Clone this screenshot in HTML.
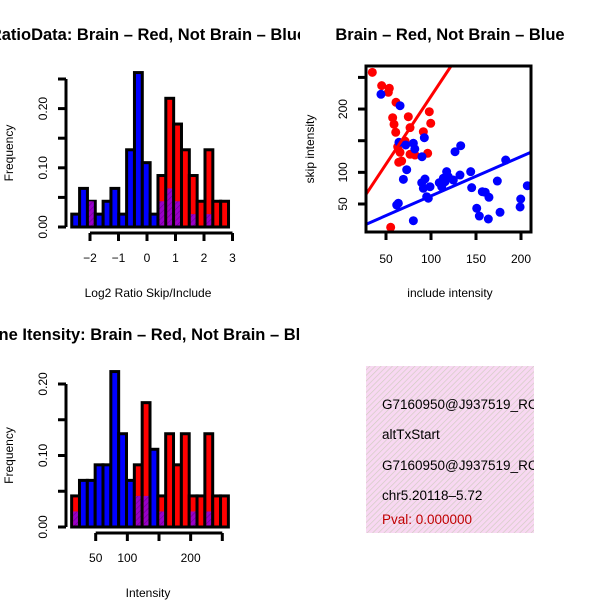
<!DOCTYPE html>
<html><head><meta charset="utf-8"><style>
body{margin:0;background:#fff}
svg text{font-family:"Liberation Sans",sans-serif}
</style></head><body>
<svg id="c" width="600" height="600" xmlns="http://www.w3.org/2000/svg">
<defs>
<pattern id="hatchP" width="4" height="4" patternUnits="userSpaceOnUse" patternTransform="rotate(45)"><rect width="4" height="4" fill="#9a00c8"/><line x1="0" y1="0" x2="0" y2="4" stroke="#6a0090" stroke-width="1.2"/></pattern>
<pattern id="pinkP" width="4" height="4" patternUnits="userSpaceOnUse" patternTransform="rotate(45)"><rect width="4" height="4" fill="#f8d8f2"/><line x1="0" y1="0" x2="0" y2="4" stroke="#d0ccc0" stroke-width="1.3"/></pattern>
<clipPath id="clipL1"><rect x="0" y="0" width="300" height="300"/></clipPath>
<clipPath id="clipL2"><rect x="0" y="300" width="300" height="300"/></clipPath>
<clipPath id="clipSc"><rect x="366" y="66" width="165" height="166"/></clipPath>
<clipPath id="clipBox"><rect x="366" y="366" width="168" height="167"/></clipPath>
</defs>
<g id="p1" clip-path="url(#clipL1)"></g>
<g id="p2" clip-path="url(#clipL2)"></g>
<g id="p3"></g>
<g id="p4">
<rect x="366" y="366" width="168" height="167" fill="url(#pinkP)"/>
<g clip-path="url(#clipBox)" font-size="13.5">
<text x="382" y="409">G7160950@J937519_RC</text>
<text x="382" y="439">altTxStart</text>
<text x="382" y="470">G7160950@J937519_RC</text>
<text x="382" y="500">chr5.20118–5.72</text>
<text x="382" y="524" fill="#c00000">Pval: 0.000000</text>
</g>
</g>
</svg>
<script>
// ---- top-left histogram data (counts out of 46) ----
const h1BinStart = -2.64;
const h1BinWidth = 0.275;
const h1Blue = [1,3,2,1,2,3,1,6,12,5,1,2,3,2,0,1,0,1,0,0];
const h1Red  = [0,0,2,0,0,0,0,0,0,0,0,4,10,8,6,4,2,6,2,2];
const h1XTicks = [-2,-1,0,1,2,3];
const h1YTicks = [0,0.05,0.10,0.15,0.20,0.25];
const h1YLabels = ["0.00","","0.10","","0.20",""];
// ---- bottom-left histogram ----
const h2BinStart = 12;
const h2BinWidth = 12.38;
const h2Blue = [1,3,3,4,4,10,6,3,2,2,5,1,0,0,0,1,0,1,0,0];
const h2Red  = [2,0,0,0,0,0,0,0,4,8,0,2,6,4,6,2,2,6,2,2];
const h2XTicks = [50,100,150,200,250];
const h2XLabels = ["50","100","","200",""];
const h2YTicks = [0,0.05,0.10,0.15,0.20];
const h2YLabels = ["0.00","","0.10","","0.20"];
// ---- scatter ----
const redX = [34.8,45.2,53.7,52.6,61.1,57.4,58.9,60.8,74.8,76.7,63,71.1,65.6,64.1,67.4,76.7,82.2,91.5,98.1,99.7,96.3,55.2];
const redY = [258,237,232.8,226.5,210.7,186.3,175.9,163.3,187.9,170.6,140.5,149.5,131.7,115.9,117.9,128.5,127.4,164.2,195.8,177.5,130.1,13.2];
const blueX = [44.4,65.6,64.4,71.9,80.4,82,92.6,90,73,69.3,89.7,93.3,91.5,95.2,98.9,97,109.2,117.4,113.7,115.6,119.2,132.2,126.7,133,144.1,145.2,150.8,153.7,157,160.3,164.4,163.7,173.7,183,176.7,199.7,199,207,61.9,63.7,80.4,124.8,111.9];
const blueY = [223.3,205.3,147.5,143.2,145.9,136.9,154.7,124.7,104.2,89,83.6,89.5,74.8,61.5,77.3,59.1,83.6,101.1,90.6,85.2,93.1,95.8,132.6,142.1,101.1,75.8,43.2,31,69.4,68.5,60.6,26.3,86.3,119.5,36.9,57.9,45.3,78.9,48.4,51.1,23.6,87.9,77.3];
const redLine = [[27.8,65.3],[122.2,267.8]];
const blueLine = [[27.8,17.9],[211,131.7]];
const scXTicks = [50,100,150,200];
const scYTicks = [50,100,150,200,250];
const scYLabels = ["50","100","","200",""];

const NS="http://www.w3.org/2000/svg";
function el(parent,tag,attrs){const e=document.createElementNS(NS,tag);for(const k in attrs)e.setAttribute(k,attrs[k]);parent.appendChild(e);return e;}

function hist(g,cfg){
  const xs=v=>cfg.x0px+(v-cfg.x0)*cfg.xs, ys=v=>cfg.y0px-v*cfg.ys;
  const N=46;
  for(let i=0;i<cfg.blue.length;i++){
    const l=xs(cfg.bs+i*cfg.bw), r=xs(cfg.bs+(i+1)*cfg.bw);
    const b=cfg.blue[i]/N, rd=cfg.red[i]/N, mn=Math.min(b,rd), mx=Math.max(b,rd);
    if(mx<=0) continue;
    const top = b>=rd ? '#0000ff' : '#ff0000';
    const r1=el(g,'rect',{x:l,y:ys(mx),width:r-l,height:ys(0)-ys(mx),fill:top,stroke:'#000','stroke-width':3});
    
    
    if(mn>0){
      const r2=el(g,'rect',{x:l+1.5,y:ys(mn),width:r-l-3,height:ys(0)-ys(mn)-1.5,fill:'url(#hatchP)'});
      
      
    }
  }
  const ya=el(g,'line',{x1:cfg.yax,x2:cfg.yax,y1:ys(cfg.yt[0]),y2:ys(cfg.yt[cfg.yt.length-1]),stroke:'#000','stroke-width':3});
  
  
  cfg.yt.forEach((t,i)=>{
    el(g,'line',{x1:cfg.yax-8,x2:cfg.yax,y1:ys(t),y2:ys(t),stroke:'#000','stroke-width':3});
    if(cfg.yl[i]){const tx=el(g,'text',{x:0,y:0,'font-size':12,'text-anchor':'middle',transform:`translate(${cfg.yax-19},${ys(t)}) rotate(-90)`});tx.textContent=cfg.yl[i];
      
      }
  });
  const xa=el(g,'line',{x1:xs(cfg.xt[0]),x2:xs(cfg.xt[cfg.xt.length-1]),y1:cfg.xay,y2:cfg.xay,stroke:'#000','stroke-width':3});
  
  
  cfg.xt.forEach((t,i)=>{
    el(g,'line',{x1:xs(t),x2:xs(t),y1:cfg.xay,y2:cfg.xay+8,stroke:'#000','stroke-width':3});
    if(cfg.xl[i]){const tx=el(g,'text',{x:xs(t),y:cfg.xay+29,'font-size':12,'text-anchor':'middle'});tx.textContent=cfg.xl[i];
      
      }
  });
  const ti=el(g,'text',{x:148,y:cfg.titleY,'font-size':16.5,'font-weight':'bold','text-anchor':'middle'});ti.textContent=cfg.title;
  
  
  const xt=el(g,'text',{x:148,y:cfg.xtitleY,'font-size':12,'text-anchor':'middle'});xt.textContent=cfg.xtitle;
  
  
  const yt=el(g,'text',{x:0,y:0,'font-size':12,'text-anchor':'middle',transform:`translate(13,${(ys(0)+ys(cfg.yt[cfg.yt.length-1]))/2}) rotate(-90)`});yt.textContent='Frequency';
  
  
}
const p1=document.getElementById('p1');


hist(p1,{x0:0,x0px:147,xs:28.5,y0px:227,ys:592,bs:h1BinStart,bw:h1BinWidth,blue:h1Blue,red:h1Red,
  yt:h1YTicks,yl:h1YLabels,yax:66,xt:h1XTicks,xl:h1XTicks.map(String).map(s=>s.replace('-','\u2212')),xay:233,
  title:'RatioData: Brain \u2013 Red, Not Brain \u2013 Blue',titleY:40,xtitle:'Log2 Ratio Skip/Include',xtitleY:297});
const p2=document.getElementById('p2');


hist(p2,{x0:50,x0px:95.7,xs:0.633,y0px:527,ys:715,bs:h2BinStart,bw:h2BinWidth,blue:h2Blue,red:h2Red,
  yt:h2YTicks,yl:h2YLabels,yax:66,xt:h2XTicks,xl:h2XLabels,xay:533,
  title:'Gene Itensity: Brain \u2013 Red, Not Brain \u2013 Blue',titleY:340,xtitle:'Intensity',xtitleY:597});

const g3=document.getElementById('p3');


const sx=v=>386+(v-50)*0.9, sy=v=>204-(v-50)*0.633;
const pts=el(g3,'g',{'clip-path':'url(#clipSc)'});
redX.forEach((x,i)=>{const c=el(pts,'circle',{cx:sx(x),cy:sy(redY[i]),r:4.5,fill:'#ff0000'});
  
  });
blueX.forEach((x,i)=>{const c=el(pts,'circle',{cx:sx(x),cy:sy(blueY[i]),r:4.5,fill:'#0000ff'});
  
  });
const rl=el(pts,'line',{x1:sx(redLine[0][0]),y1:sy(redLine[0][1]),x2:sx(redLine[1][0]),y2:sy(redLine[1][1]),stroke:'#ff0000','stroke-width':3});


const bl=el(pts,'line',{x1:sx(blueLine[0][0]),y1:sy(blueLine[0][1]),x2:sx(blueLine[1][0]),y2:sy(blueLine[1][1]),stroke:'#0000ff','stroke-width':3});


const box=el(g3,'rect',{x:366,y:66,width:165,height:166,fill:'none',stroke:'#000','stroke-width':3});


scXTicks.forEach(t=>{el(g3,'line',{x1:sx(t),x2:sx(t),y1:232,y2:240,stroke:'#000','stroke-width':3});
  const tx=el(g3,'text',{x:sx(t),y:263,'font-size':12,'text-anchor':'middle'});tx.textContent=t;
  
  });
scYTicks.forEach((t,i)=>{el(g3,'line',{x1:358,x2:366,y1:sy(t),y2:sy(t),stroke:'#000','stroke-width':3});
  if(scYLabels[i]){const tx=el(g3,'text',{x:0,y:0,'font-size':12,'text-anchor':'middle',transform:`translate(347,${sy(t)}) rotate(-90)`});tx.textContent=scYLabels[i];
  
  }});
const st=el(g3,'text',{x:450,y:40,'font-size':16.5,'font-weight':'bold','text-anchor':'middle'});st.textContent='Brain \u2013 Red, Not Brain \u2013 Blue';


const sxt=el(g3,'text',{x:450,y:297,'font-size':12,'text-anchor':'middle'});sxt.textContent='include intensity';


const syt=el(g3,'text',{x:0,y:0,'font-size':12,'text-anchor':'middle',transform:'translate(314,149) rotate(-90)'});syt.textContent='skip intensity';


</script>
</body></html>
